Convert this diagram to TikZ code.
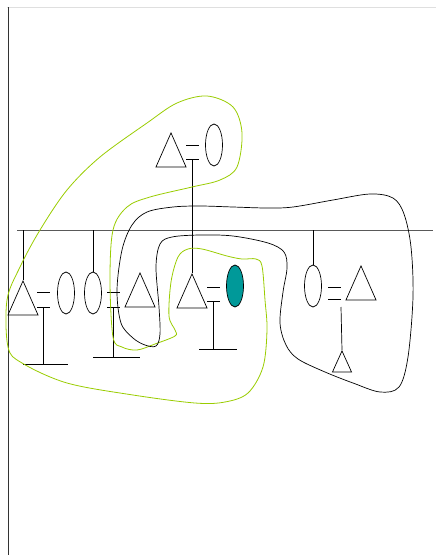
\documentclass[tikz,border=0pt]{standalone}
\usetikzlibrary{shapes.geometric}
\definecolor{limeline}{RGB}{153,204,0}
\definecolor{tealfill}{RGB}{0,153,153}
\begin{document}
\begin{tikzpicture}[x=1pt, y=-1pt, line width=0.7pt]
        \tikzset{%
         every member/.style={
            draw,
            inner sep=0pt},
        tri/.style={
            isosceles triangle,
            shape border rotate=90,
            isosceles triangle stretches,
            minimum width=30pt,
            minimum height=34pt,
            anchor=apex},
        small tri/.style={
            minimum width=19pt,
            minimum height=21pt},
        oval/.style={
            ellipse,
            minimum width=17pt,
            minimum height=42pt},
        }
        \useasboundingbox (0,0) rectangle (436,555);

        % frame
        \draw [gray!25, line width=0.8pt] (7,7) -- (436,7);
        \draw [black!80, line width=1pt] (8,7) -- (8,555);

        % bus
        \coordinate (bus-l) at (17,230);
        \coordinate (bus-r) at (433,230);
        \draw [gray!70!black, line width=1pt] (bus-l) -- (bus-r);

        % members
        \node [every member, tri] (top-tri) at (171,132) {};
        \node [every member, oval] (top-ov) at (214,145) {};

        \node [every member, tri] (tri-1) at (23,280) {};
        \node [every member, oval] (ov-1) at (66,293) {};
        \node [every member, oval] (ov-2) at (93,293) {};
        \node [every member, tri] (tri-2) at (140,272) {};
        \node [every member, tri] (tri-3) at (192,273) {};
        \node [every member, oval, fill=tealfill] (ov-3) at (235,286) {};
        \node [every member, oval] (ov-4) at (313,286) {};
        \node [every member, tri] (tri-4) at (361,265) {};
        \node [every member, tri, small tri] (tri-5) at (342,350) {};

        % equal signs
        \foreach \x/\ya/\yb in {37/292/307, 107/292/307, 207/287/301, 186/145/159, 328/287/299}
        {
            \draw (\x,\ya) -- ++(13,0);
            \draw (\x,\yb) -- ++(13,0);
        }

        % stems and bars
        \foreach \x/\ya/\yb/\l/\r in {43/307/364/23/68, 113/307/357/93/140, 213/301/349/199/237}
        {
            \draw (\x,\ya) -- (\x,\yb);
            \draw (\l,\yb) -- (\r,\yb);
        }
        \coordinate (top-stem) at (192,159);
        \coordinate (right-stem) at (341,307);
        \draw (top-stem) -- (tri-3.apex);
        \draw (right-stem) -- (tri-5.apex);

        % drops from the bus
        \draw (tri-1.apex |- bus-l) -- (tri-1.apex);
        \draw (ov-2.north |- bus-l) -- (ov-2.north);
        \draw (ov-4.north |- bus-l) -- (ov-4.north);

        % outlines
        \draw [limeline, line width=0.8pt] plot [smooth cycle, tension=0.55] coordinates {
            (207,96) (233,107) (242,133) (237,167) (220,180) (192,187) (150,197)
            (127,207) (113,230) (110,280) (113,337) (122,347) (137,350) (155,344)
            (175,336) (175,330) (169,316) (171,282) (178,257) (188,249) (202,249)
            (227,256) (242,259) (256,259) (262,266) (265,300) (267,330) (263,367)
            (248,393) (225,402) (195,403) (133,395) (67,383) (22,363) (8,347)
            (7,300) (20,267) (40,230) (67,190) (100,157) (147,123) (177,103)};
        \draw [black, line width=0.7pt] plot [smooth cycle, tension=0.55] coordinates {
            (147,212) (173,207) (200,206) (233,207) (267,208) (293,207) (333,200)
            (370,194) (393,198) (404,214) (411,247) (413,297) (408,357) (399,387)
            (380,392) (353,383) (325,372) (298,359) (286,345) (280,323) (283,292)
            (287,268) (284,252) (268,243) (233,236) (200,235) (172,237) (160,244)
            (156,267) (159,307) (160,334) (156,346) (145,345) (133,338) (121,323)
            (117,290) (122,250) (132,225)};
    \end{tikzpicture}
\end{document}
